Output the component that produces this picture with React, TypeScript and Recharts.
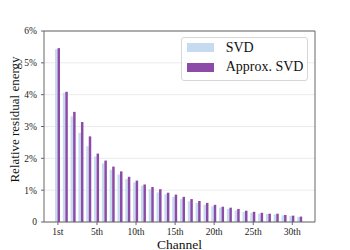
import React from "react";
import { BarChart, Bar, XAxis, YAxis, CartesianGrid, Legend, Label } from "recharts";

const channels = Array.from({ length: 32 }, (_, i) => i);
const tickPositions = [0, 5, 10, 15, 20, 25, 30];
const tickLabels = ["1st", "5th", "10th", "15th", "20th", "25th", "30th"];
const svd = [5.43, 4.06, 3.32, 2.8, 2.38, 2.06, 1.84, 1.64, 1.49, 1.35, 1.24, 1.14, 1.03, 0.93, 0.87, 0.79, 0.72, 0.65, 0.6, 0.54, 0.49, 0.45, 0.41, 0.365, 0.32, 0.29, 0.26, 0.25, 0.24, 0.21, 0.19, 0.16];
const approxSvd = [5.46, 4.09, 3.46, 3.14, 2.69, 2.15, 1.93, 1.74, 1.59, 1.42, 1.3, 1.18, 1.1, 1.03, 0.92, 0.86, 0.79, 0.72, 0.66, 0.6, 0.54, 0.48, 0.45, 0.41, 0.355, 0.32, 0.29, 0.26, 0.26, 0.22, 0.2, 0.17];
const yTicks = [0, 1, 2, 3, 4, 5, 6];

const data = channels.map((c, i) => ({ ch: c, svd: svd[i], approx: approxSvd[i] }));

const FONT = "'Liberation Serif', 'Times New Roman', serif";
const LIGHT = "#c6dbef";
const PURPLE = "#8c4ba6";
const AXIS = "#666";

const LegendBox = () => (
  <div
    style={{
      position: "relative",
      width: 127,
      height: 44,
      boxSizing: "border-box",
      border: "1px solid #d6d6d6",
      borderRadius: 3,
      background: "rgba(255,255,255,0.85)",
      fontFamily: FONT,
      fontSize: 14,
      color: "#111",
    }}
  >
    <div style={{ position: "absolute", left: 5, top: 5, width: 27, height: 9, background: LIGHT }} />
    <div style={{ position: "absolute", left: 5, top: 24.5, width: 27, height: 9.5, background: PURPLE }} />
    <span style={{ position: "absolute", left: 43.7, top: 3.3, lineHeight: "14px", whiteSpace: "nowrap" }}>SVD</span>
    <span style={{ position: "absolute", left: 43.7, top: 22.3, lineHeight: "14px", whiteSpace: "nowrap" }}>Approx. SVD</span>
  </div>
);

export default function App() {
  return (
    <BarChart
      width={342}
      height={242}
      data={data}
      margin={{ top: 22, right: 34, bottom: 0, left: 0 }}
      barGap={0}
      barSize={2.5}
    >
      <CartesianGrid vertical={false} stroke="#ebebeb" />
      <XAxis
        dataKey="ch"
        type="category"
        height={28}
        padding={{ left: 10, right: 11 }}
        ticks={tickPositions}
        interval={0}
        tickFormatter={(v: number) => tickLabels[tickPositions.indexOf(v)] ?? ""}
        tick={{ fontFamily: FONT, fontSize: 9.5, fill: "#222" }}
        tickSize={3}
        tickMargin={3}
        axisLine={{ stroke: AXIS }}
        tickLine={{ stroke: AXIS }}
      >
        <Label
          content={() => (
            <text x={171.5} y={240.8} textAnchor="middle" fontFamily={FONT} fontSize={13.5} fill="#111">
              Channel
            </text>
          )}
        />
      </XAxis>
      <XAxis
        xAxisId="top"
        dataKey="ch"
        orientation="top"
        height={1}
        tick={false}
        tickLine={false}
        axisLine={{ stroke: AXIS }}
      />
      <YAxis
        width={36}
        domain={[0, 6]}
        ticks={yTicks}
        interval={0}
        tickFormatter={(v: number) => (v === 0 ? "0" : `${v}%`)}
        tick={{ fontFamily: FONT, fontSize: 9.5, fill: "#222" }}
        tickSize={3}
        tickMargin={4}
        axisLine={{ stroke: AXIS }}
        tickLine={{ stroke: AXIS }}
      >
        <Label
          content={() => (
            <text
              x={11.3}
              y={111.5}
              textAnchor="middle"
              transform="rotate(-90, 11.3, 111.5)"
              fontFamily={FONT}
              fontSize={13}
              fill="#111"
            >
              Relative residual energy
            </text>
          )}
        />
      </YAxis>
      <YAxis
        yAxisId="right"
        orientation="right"
        domain={[0, 6]}
        width={1}
        tick={false}
        tickLine={false}
        axisLine={{ stroke: AXIS }}
      />
      <Legend
        layout="vertical"
        align="center"
        verticalAlign="middle"
        content={() => <LegendBox />}
        wrapperStyle={{ position: "absolute", left: 173, top: 29, width: 127, height: 44 }}
      />
      <Bar dataKey="svd" name="SVD" fill={LIGHT} isAnimationActive={false} />
      <Bar dataKey="approx" name="Approx. SVD" fill={PURPLE} isAnimationActive={false} />
    </BarChart>
  );
}
